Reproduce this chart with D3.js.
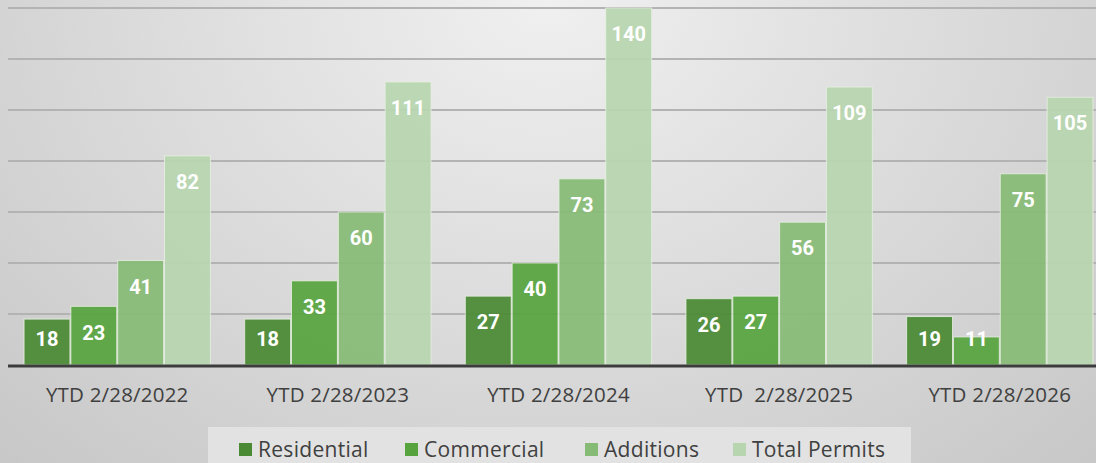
<!DOCTYPE html>
<html>
<head>
<meta charset="utf-8">
<script src="https://cdn.jsdelivr.net/npm/d3@7"></script>
<style>
  html, body { margin: 0; padding: 0; }
  body { width: 1096px; height: 463px; overflow: hidden; }
  svg { display: block; font-family: Roboto, "Open Sans", sans-serif; }
</style>
</head>
<body>
<div id="permits-chart"></div>
<script>
// chart values
const periods = ["YTD 2/28/2022", "YTD 2/28/2023", "YTD 2/28/2024", "YTD  2/28/2025", "YTD 2/28/2026"];
const seriesNames = ["Residential", "Commercial", "Additions", "Total Permits"];
const residential = [18, 18, 27, 26, 19];
const commercial = [23, 33, 40, 27, 11];
const additions = [41, 60, 73, 56, 75];
const totalPermits = [82, 111, 140, 109, 105];
const yTicks = [0, 20, 40, 60, 80, 100, 120, 140];

const seriesValues = [residential, commercial, additions, totalPermits];
const seriesColors = ["#4a8a35", "#57a43f", "#86bb76", "#b7d5ae"];

function drawChart(element_id) {
	const width = 1096, height = 463;
	const labelFont = "'Open Sans', Roboto, sans-serif";

	const svg = d3.select("#" + element_id)
		.append("svg")
			.attr("width", width)
			.attr("height", height);

	// background gradient
	const defs = svg.append("defs");
	const grad = defs.append("radialGradient")
		.attr("id", "bg")
		.attr("cx", "50%").attr("cy", "0%")
		.attr("r", "75%")
		.attr("gradientTransform", "translate(0.5,0) scale(1,1.9) translate(-0.5,0)");
	grad.append("stop").attr("offset", "0%").attr("stop-color", "#f0f0f0");
	grad.append("stop").attr("offset", "100%").attr("stop-color", "#c6c6c6");

	svg.append("rect")
		.attr("width", width).attr("height", height)
		.attr("fill", "url(#bg)");

	const table = periods.map((p, i) => ({
		period: p,
		values: seriesNames.map((s, j) => ({ series: s, idx: j, value: seriesValues[j][i] }))
	}));

	const x0 = d3.scaleBand()
		.domain(periods)
		.range([7, 1110])
		.paddingInner(0.147)
		.paddingOuter(0.073);

	const x1 = d3.scaleBand()
		.domain(seriesNames)
		.range([0, x0.bandwidth()])
		.padding(0.02);

	const y = d3.scaleLinear()
		.domain([0, 140])
		.range([365, 8]);

	// gridlines
	svg.append("g")
		.selectAll("line")
		.data(yTicks.filter(d => d > 0))
		.join("line")
			.attr("x1", 8).attr("x2", width)
			.attr("y1", d => y(d)).attr("y2", d => y(d))
			.attr("stroke", "#b3b3b3")
			.attr("stroke-width", 2);

	// bars
	const groups = svg.append("g")
		.selectAll("g")
		.data(table)
		.join("g")
			.attr("transform", d => "translate(" + x0(d.period) + ",0)");

	groups.selectAll("rect")
		.data(d => d.values)
		.join("rect")
			.attr("x", d => x1(d.series))
			.attr("y", d => y(d.value))
			.attr("width", x1.bandwidth())
			.attr("height", d => y(0) - y(d.value))
			.attr("fill", d => seriesColors[d.idx])
			.attr("fill-opacity", 0.93)
			.attr("stroke", "#e8f0e4")
			.attr("stroke-opacity", 0.8)
			.attr("stroke-width", 1);

	groups.selectAll("text")
		.data(d => d.values)
		.join("text")
			.attr("x", d => x1(d.series) + x1.bandwidth() / 2)
			.attr("y", d => Math.min(y(d.value) + 26, y(0) - 26))
			.attr("dy", "0.36em")
			.attr("text-anchor", "middle")
			.attr("fill", "#ffffff")
			.attr("font-weight", "bold")
			.attr("font-size", "20px")
			.text(d => d.value);

	// baseline axis
	svg.append("line")
		.attr("x1", 8).attr("x2", width)
		.attr("y1", y(0) + 1).attr("y2", y(0) + 1)
		.attr("stroke", "#3c3c3c")
		.attr("stroke-width", 3);

	// x labels
	svg.append("g")
		.selectAll("text")
		.data(periods)
		.join("text")
			.attr("x", d => x0(d) + x0.bandwidth() / 2)
			.attr("y", 395)
			.attr("dy", "0.36em")
			.attr("text-anchor", "middle")
			.attr("fill", "#404040")
			.attr("font-family", labelFont)
			.attr("font-size", "20.5px")
			.attr("letter-spacing", "0.2px")
			.style("white-space", "pre")
			.text(d => d);

	// legend
	const legend = svg.append("g");
	legend.append("rect")
		.attr("x", 208).attr("y", 427)
		.attr("width", 703).attr("height", 40)
		.attr("fill", "#e2e2e2");

	const legendX = [239, 405, 585, 733];
	const items = legend.selectAll("g")
		.data(seriesNames)
		.join("g")
			.attr("transform", (d, i) => "translate(" + legendX[i] + ",443)");
	items.append("rect")
		.attr("width", 13).attr("height", 13)
		.attr("fill", (d, i) => seriesColors[i]);
	items.append("text")
		.attr("x", 19)
		.attr("y", 6.5)
		.attr("dy", "0.36em")
		.attr("fill", "#404040")
		.attr("font-family", labelFont)
		.attr("font-size", "21px")
		.attr("letter-spacing", "0.3px")
		.text(d => d);
}

function whenDocumentLoaded(action) {
	if (document.readyState === "loading") {
		document.addEventListener("DOMContentLoaded", action);
	} else {
		action();
	}
}

whenDocumentLoaded(() => {
	drawChart("permits-chart");
});
</script>
</body>
</html>
